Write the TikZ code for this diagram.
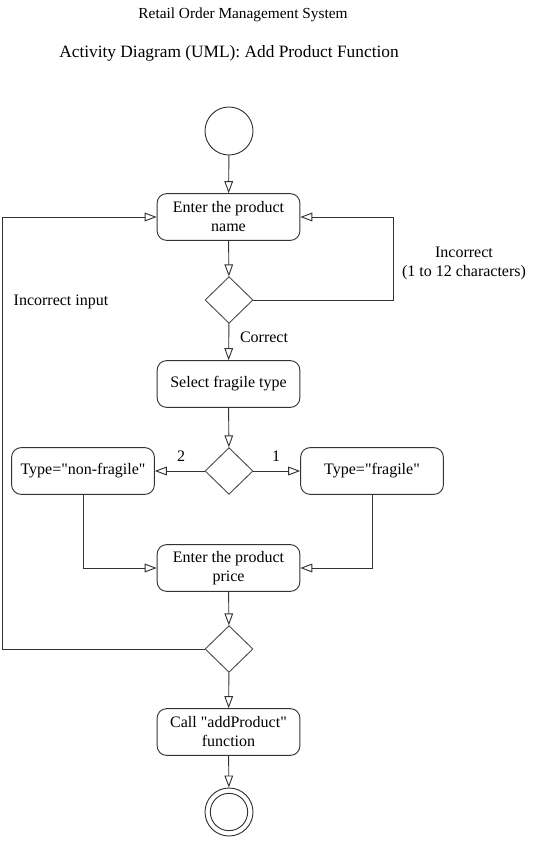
\documentclass[tikz,border=0pt]{standalone}
\usepackage{fontspec}
\setmainfont{Liberation Serif}
\usetikzlibrary{shapes,arrows,positioning,arrows.meta}

\begin{document}
\begin{tikzpicture}[x=0.75pt, y=-0.75pt, font=\fontsize{12}{14.25}\selectfont,
    line width=0.7pt, draw=black!80,
    act/.style={rectangle, draw=black!80, rounded corners=7pt, minimum width=107pt, minimum height=35pt, align=center, fill=white},
    dec/.style={diamond, draw=black!70, minimum width=36pt, minimum height=35pt, inner sep=0pt},
    flow/.style={draw=black!80, -{Triangle[open, length=9pt, width=6.5pt]}}]
    \useasboundingbox (0,0) rectangle (535,841);

    % Titles
    \node[font=\fontsize{11.5}{14}\selectfont] (title) at (243,15) {Retail Order Management System};
    \node[font=\fontsize{13}{15}\selectfont] (subtitle) at (229,53) {Activity Diagram (UML): Add Product Function};

    % Start and end
    \node[circle, draw=black!80, minimum size=36pt, inner sep=0pt] (start) at (229,131) {};
    \node[circle, draw=black!80, minimum size=36pt, inner sep=0pt,
        path picture={\draw[black!80] (path picture bounding box.center) circle (14pt);}] (stop) at (229,812) {};

    % Actions
    \node[act] (name) at (228.5,217) {Enter the product\\name};
    \node[act] (fragtype) at (228.5,384) {Select fragile type};
    \node[act] (nonfrag) at (83,471) {Type=\textquotedbl non-fragile\textquotedbl};
    \node[act] (frag) at (372,471) {Type=\textquotedbl fragile\textquotedbl};
    \node[act] (price) at (228.5,568) {Enter the product\\price};
    \node[act] (call) at (228.5,732) {Call \textquotedbl addProduct\textquotedbl\\function};

    % Decisions
    \node[dec] (chk1) at (229,300) {};
    \node[dec] (chk2) at (229,471) {};
    \node[dec] (chk3) at (229,649) {};

    % Loop corners
    \coordinate (rloop) at (393,300);
    \coordinate (lloop) at (2,649);

    % Flows
    \draw[flow] (start) -- (name);
    \draw[flow] (name) -- (chk1);
    \draw[flow] (chk1.east) -- (rloop) |- (name.east);
    \draw[flow] (chk1) -- (fragtype);
    \draw[flow] (fragtype) -- (chk2);
    \draw[flow] (chk2.west) -- (nonfrag.east);
    \draw[flow] (chk2.east) -- (frag.west);
    \draw[flow] (nonfrag.south) |- (price.west);
    \draw[flow] (frag.south) |- (price.east);
    \draw[flow] (price) -- (chk3);
    \draw[flow] (chk3.west) -- (lloop) |- (name.west);
    \draw[flow] (chk3) -- (call);
    \draw[flow] (call) -- (stop);

    % Guards
    \node[align=center] (incorrect) at (464,263) {Incorrect\\(1 to 12 characters)};
    \node (correct) at (264,337) {Correct};
    \node (two) at (181,456) {2};
    \node (one) at (276,456) {1};
    \node (badinput) at (61,302) {Incorrect input};
\end{tikzpicture}
\end{document}
